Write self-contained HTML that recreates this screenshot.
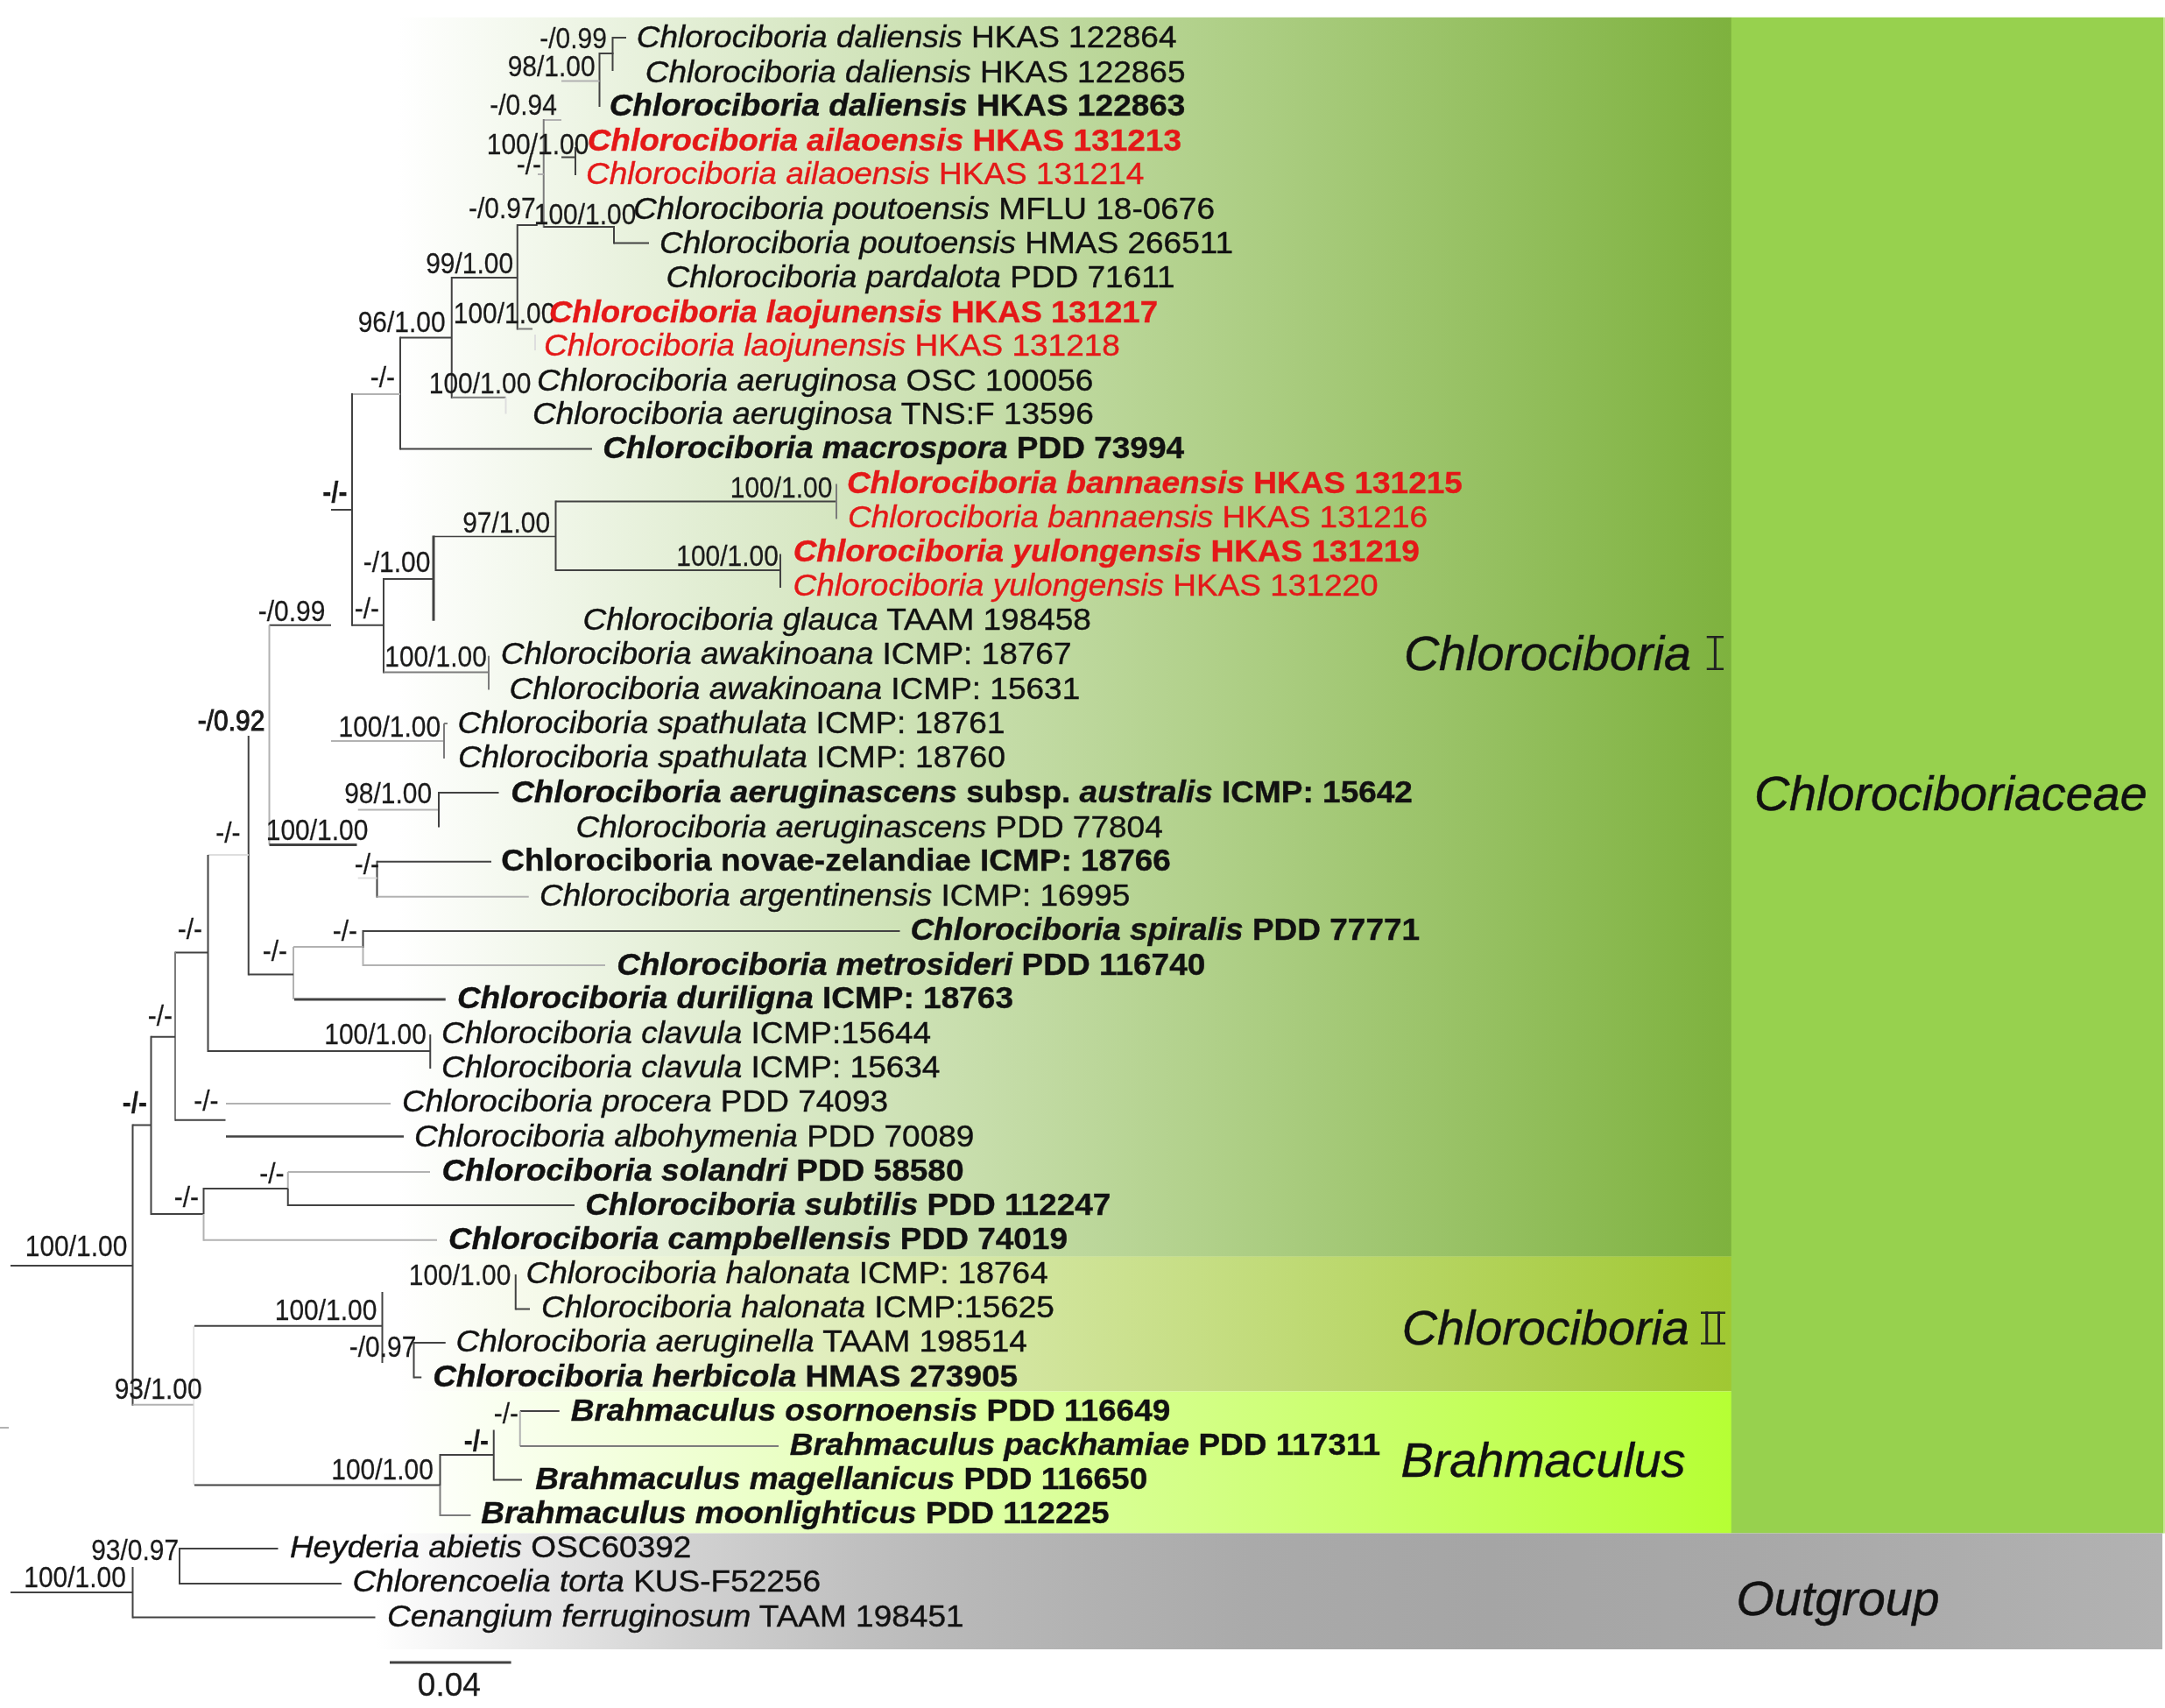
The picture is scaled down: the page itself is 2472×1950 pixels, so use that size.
<!DOCTYPE html>
<html><head><meta charset="utf-8"><title>Phylogenetic tree</title>
<style>html,body{margin:0;padding:0;background:#fff}svg{display:block;filter:blur(0.55px)}text{font-family:"Liberation Sans",sans-serif;white-space:pre}.i{font-style:italic}.b{font-weight:bold}.bi{font-weight:bold;font-style:italic}</style></head><body>
<svg width="2472" height="1950" viewBox="0 0 2472 1950">
<defs>
<linearGradient id="g1" x1="0" x2="1" y1="0" y2="0"><stop offset="0" stop-color="#ffffff"/><stop offset="1" stop-color="#7eb23e"/></linearGradient>
<linearGradient id="g2" x1="0" x2="1" y1="0" y2="0"><stop offset="0" stop-color="#ffffff"/><stop offset="1" stop-color="#a0c832"/></linearGradient>
<linearGradient id="g3" x1="0" x2="1" y1="0" y2="0"><stop offset="0" stop-color="#ffffff"/><stop offset="1" stop-color="#b6ff34"/></linearGradient>
<linearGradient id="g4" x1="0" x2="1" y1="0" y2="0"><stop offset="0" stop-color="#ffffff"/><stop offset="0.074" stop-color="#ebebeb"/><stop offset="0.172" stop-color="#d2d2d2"/><stop offset="0.27" stop-color="#c0c0c0"/><stop offset="0.33" stop-color="#b8b8b8"/><stop offset="0.489" stop-color="#aaaaaa"/><stop offset="0.623" stop-color="#a5a5a5"/><stop offset="0.77" stop-color="#a8a8a8"/><stop offset="1" stop-color="#b2b2b2"/></linearGradient>
</defs>
<rect x="0" y="0" width="2472" height="1950" fill="#fff"/>
<rect x="455" y="19.8" width="1522" height="1415" fill="url(#g1)"/>
<rect x="455" y="1434.5" width="1522" height="154" fill="url(#g2)"/>
<rect x="455" y="1588.5" width="1522" height="162" fill="url(#g3)"/>
<rect x="1976.75" y="19.8" width="493.75" height="1730.7" fill="#97d14e"/><rect x="2470.5" y="19.8" width="1.5" height="1730.7" fill="#c8e88e"/>
<rect x="430" y="1750.5" width="2039" height="132.5" fill="url(#g4)"/>
<g fill="none" stroke-linecap="butt">
<line x1="699.5" y1="43" x2="715" y2="43" stroke="#424242" stroke-width="2"/>
<line x1="699.5" y1="42" x2="699.5" y2="81" stroke="#424242" stroke-width="2"/>
<line x1="684.5" y1="61" x2="700.5" y2="61" stroke="#424242" stroke-width="2"/>
<line x1="684.5" y1="60" x2="684.5" y2="122" stroke="#424242" stroke-width="2"/>
<line x1="641" y1="92.5" x2="684.5" y2="92.5" stroke="#b2b2b2" stroke-width="2"/>
<line x1="620.75" y1="137" x2="641" y2="137" stroke="#b2b2b2" stroke-width="2"/>
<line x1="620.75" y1="136" x2="620.75" y2="260" stroke="#7c7c7c" stroke-width="2"/>
<line x1="641" y1="179.5" x2="657" y2="179.5" stroke="#424242" stroke-width="2"/>
<line x1="657" y1="168" x2="657" y2="200" stroke="#424242" stroke-width="2"/>
<line x1="614" y1="199" x2="620.75" y2="199" stroke="#b2b2b2" stroke-width="2"/>
<line x1="620.75" y1="259" x2="701" y2="259" stroke="#424242" stroke-width="2"/>
<line x1="701" y1="258" x2="701" y2="278.5" stroke="#424242" stroke-width="2"/>
<line x1="701" y1="277.5" x2="741" y2="277.5" stroke="#424242" stroke-width="2"/>
<line x1="590.75" y1="257" x2="613.75" y2="257" stroke="#424242" stroke-width="2"/>
<line x1="590.75" y1="256" x2="590.75" y2="376.5" stroke="#424242" stroke-width="2"/>
<line x1="590.75" y1="375.5" x2="608" y2="375.5" stroke="#7c7c7c" stroke-width="2"/>
<line x1="611" y1="382" x2="611" y2="400" stroke="#dedede" stroke-width="2"/>
<line x1="515.75" y1="317" x2="590.75" y2="317" stroke="#424242" stroke-width="2"/>
<line x1="515.75" y1="316" x2="515.75" y2="454.75" stroke="#424242" stroke-width="2"/>
<line x1="516" y1="453.75" x2="577.5" y2="453.75" stroke="#7c7c7c" stroke-width="2"/>
<line x1="577.5" y1="453.75" x2="577.5" y2="472.5" stroke="#dedede" stroke-width="2"/>
<line x1="457" y1="385.5" x2="516" y2="385.5" stroke="#424242" stroke-width="2"/>
<line x1="457" y1="384.5" x2="457" y2="513.5" stroke="#424242" stroke-width="2"/>
<line x1="457" y1="512.5" x2="676" y2="512.5" stroke="#424242" stroke-width="2"/>
<line x1="402" y1="450" x2="457" y2="450" stroke="#b2b2b2" stroke-width="2"/>
<line x1="402" y1="449" x2="402" y2="714.75" stroke="#424242" stroke-width="2"/>
<line x1="402" y1="713.75" x2="438" y2="713.75" stroke="#424242" stroke-width="2"/>
<line x1="378" y1="582" x2="402" y2="582" stroke="#424242" stroke-width="2"/>
<line x1="438" y1="660" x2="438" y2="768.5" stroke="#424242" stroke-width="2"/>
<line x1="438" y1="661" x2="495" y2="661" stroke="#424242" stroke-width="2"/>
<line x1="495" y1="611.5" x2="495" y2="708.75" stroke="#424242" stroke-width="3"/>
<line x1="495" y1="612.5" x2="634.5" y2="612.5" stroke="#424242" stroke-width="1.6"/>
<line x1="634.5" y1="571.5" x2="634.5" y2="652" stroke="#424242" stroke-width="2"/>
<line x1="634.5" y1="572.5" x2="955" y2="572.5" stroke="#424242" stroke-width="2"/>
<line x1="955" y1="552.5" x2="955" y2="592.5" stroke="#7c7c7c" stroke-width="2"/>
<line x1="634.5" y1="651" x2="891" y2="651" stroke="#424242" stroke-width="2"/>
<line x1="891" y1="632.5" x2="891" y2="671" stroke="#424242" stroke-width="2"/>
<line x1="438" y1="767.5" x2="558" y2="767.5" stroke="#7c7c7c" stroke-width="2"/>
<line x1="558" y1="748.75" x2="558" y2="787.5" stroke="#7c7c7c" stroke-width="2"/>
<line x1="307.5" y1="713.75" x2="378" y2="713.75" stroke="#424242" stroke-width="2"/>
<line x1="307.5" y1="713.75" x2="307.5" y2="964.5" stroke="#b2b2b2" stroke-width="2"/>
<line x1="307.5" y1="964.5" x2="407.5" y2="964.5" stroke="#424242" stroke-width="3"/>
<line x1="283.75" y1="840" x2="283.75" y2="1113.5" stroke="#424242" stroke-width="2"/>
<line x1="237.5" y1="976" x2="283.75" y2="976" stroke="#dedede" stroke-width="2"/>
<line x1="237.5" y1="976" x2="237.5" y2="1201" stroke="#424242" stroke-width="2"/>
<line x1="378" y1="846" x2="507" y2="846" stroke="#b2b2b2" stroke-width="2"/>
<line x1="507" y1="826" x2="507" y2="866" stroke="#7c7c7c" stroke-width="2"/>
<line x1="507" y1="826" x2="511" y2="826" stroke="#7c7c7c" stroke-width="2"/>
<line x1="408.75" y1="924.5" x2="501" y2="924.5" stroke="#b2b2b2" stroke-width="2"/>
<line x1="501" y1="904" x2="501" y2="944.5" stroke="#424242" stroke-width="2"/>
<line x1="501" y1="905" x2="569.5" y2="905" stroke="#424242" stroke-width="2"/>
<line x1="430.5" y1="983.75" x2="561" y2="983.75" stroke="#424242" stroke-width="2"/>
<line x1="430.5" y1="982.75" x2="430.5" y2="1024.75" stroke="#424242" stroke-width="2"/>
<line x1="430.5" y1="1023.75" x2="603.75" y2="1023.75" stroke="#b2b2b2" stroke-width="2"/>
<line x1="408.75" y1="1002.5" x2="430.5" y2="1002.5" stroke="#dedede" stroke-width="2"/>
<line x1="414.5" y1="1063" x2="1027.5" y2="1063" stroke="#424242" stroke-width="2"/>
<line x1="414.5" y1="1062" x2="414.5" y2="1082" stroke="#424242" stroke-width="2"/>
<line x1="414.5" y1="1082" x2="414.5" y2="1103" stroke="#b2b2b2" stroke-width="2"/>
<line x1="414.5" y1="1102" x2="691" y2="1102" stroke="#b2b2b2" stroke-width="2"/>
<line x1="335" y1="1081" x2="414.5" y2="1081" stroke="#b2b2b2" stroke-width="2"/>
<line x1="335" y1="1081" x2="335" y2="1141" stroke="#b2b2b2" stroke-width="2"/>
<line x1="283.75" y1="1112.5" x2="335" y2="1112.5" stroke="#424242" stroke-width="2"/>
<line x1="336" y1="1141" x2="508.75" y2="1141" stroke="#424242" stroke-width="3"/>
<line x1="237.5" y1="1200" x2="491.25" y2="1200" stroke="#424242" stroke-width="2"/>
<line x1="491.25" y1="1181" x2="491.25" y2="1220" stroke="#424242" stroke-width="2"/>
<line x1="200" y1="1087.5" x2="237.5" y2="1087.5" stroke="#424242" stroke-width="2"/>
<line x1="200" y1="1086.5" x2="200" y2="1279.75" stroke="#7c7c7c" stroke-width="2"/>
<line x1="200" y1="1278.75" x2="257.5" y2="1278.75" stroke="#424242" stroke-width="2"/>
<line x1="258" y1="1260" x2="446" y2="1260" stroke="#b2b2b2" stroke-width="2"/>
<line x1="258" y1="1297.5" x2="461" y2="1297.5" stroke="#424242" stroke-width="2.5"/>
<line x1="172.5" y1="1183.75" x2="200" y2="1183.75" stroke="#424242" stroke-width="2"/>
<line x1="172.5" y1="1182.75" x2="172.5" y2="1387" stroke="#424242" stroke-width="2"/>
<line x1="172.5" y1="1386" x2="232.5" y2="1386" stroke="#424242" stroke-width="2"/>
<line x1="151.5" y1="1284.5" x2="172.5" y2="1284.5" stroke="#424242" stroke-width="2"/>
<line x1="151.5" y1="1283.5" x2="151.5" y2="1604.75" stroke="#424242" stroke-width="2"/>
<line x1="12" y1="1445" x2="151.5" y2="1445" stroke="#424242" stroke-width="2"/>
<line x1="328.75" y1="1338" x2="491" y2="1338" stroke="#b2b2b2" stroke-width="2"/>
<line x1="328.75" y1="1338" x2="328.75" y2="1357" stroke="#b2b2b2" stroke-width="2"/>
<line x1="328.75" y1="1357" x2="328.75" y2="1377" stroke="#424242" stroke-width="2"/>
<line x1="328.75" y1="1376" x2="656" y2="1376" stroke="#424242" stroke-width="2"/>
<line x1="232.5" y1="1357" x2="328.75" y2="1357" stroke="#424242" stroke-width="2"/>
<line x1="232.5" y1="1356" x2="232.5" y2="1386" stroke="#424242" stroke-width="2"/>
<line x1="232.5" y1="1386" x2="232.5" y2="1416.75" stroke="#b2b2b2" stroke-width="2"/>
<line x1="232.5" y1="1415.75" x2="499" y2="1415.75" stroke="#b2b2b2" stroke-width="2"/>
<line x1="151.5" y1="1603.75" x2="221.25" y2="1603.75" stroke="#b2b2b2" stroke-width="2"/>
<line x1="221.25" y1="1513.75" x2="221.25" y2="1695.5" stroke="#e0e0e0" stroke-width="1.5"/>
<line x1="222" y1="1513.75" x2="436.25" y2="1513.75" stroke="#424242" stroke-width="2"/>
<line x1="436.5" y1="1475" x2="436.5" y2="1556" stroke="#424242" stroke-width="2"/>
<line x1="472.5" y1="1533" x2="508.75" y2="1533" stroke="#424242" stroke-width="2"/>
<line x1="472.5" y1="1532" x2="472.5" y2="1573.5" stroke="#424242" stroke-width="2"/>
<line x1="472.5" y1="1572.5" x2="481.25" y2="1572.5" stroke="#424242" stroke-width="2"/>
<line x1="588.75" y1="1455" x2="588.75" y2="1495.5" stroke="#424242" stroke-width="2"/>
<line x1="588.75" y1="1494.5" x2="605" y2="1494.5" stroke="#424242" stroke-width="2"/>
<line x1="222" y1="1695.5" x2="502" y2="1695.5" stroke="#424242" stroke-width="2"/>
<line x1="502.5" y1="1660" x2="502.5" y2="1696" stroke="#424242" stroke-width="2"/>
<line x1="502.5" y1="1696" x2="502.5" y2="1731" stroke="#7c7c7c" stroke-width="2"/>
<line x1="502.5" y1="1661" x2="563.75" y2="1661" stroke="#424242" stroke-width="2"/>
<line x1="563.75" y1="1632.5" x2="563.75" y2="1690.5" stroke="#424242" stroke-width="2"/>
<line x1="563.75" y1="1689.5" x2="596" y2="1689.5" stroke="#424242" stroke-width="2"/>
<line x1="593.75" y1="1611" x2="638.75" y2="1611" stroke="#424242" stroke-width="2"/>
<line x1="593.75" y1="1611" x2="593.75" y2="1651" stroke="#b2b2b2" stroke-width="2"/>
<line x1="593.75" y1="1651" x2="889" y2="1651" stroke="#7c7c7c" stroke-width="2"/>
<line x1="502.5" y1="1730" x2="537.5" y2="1730" stroke="#7c7c7c" stroke-width="2"/>
<line x1="0" y1="1630" x2="10" y2="1630" stroke="#b2b2b2" stroke-width="2"/>
<line x1="205" y1="1768" x2="317.5" y2="1768" stroke="#424242" stroke-width="2"/>
<line x1="205" y1="1767" x2="205" y2="1809" stroke="#424242" stroke-width="2"/>
<line x1="205" y1="1808" x2="390" y2="1808" stroke="#424242" stroke-width="2"/>
<line x1="12" y1="1818" x2="151.5" y2="1818" stroke="#424242" stroke-width="2"/>
<line x1="151.5" y1="1789" x2="151.5" y2="1847.5" stroke="#424242" stroke-width="2"/>
<line x1="151.5" y1="1846.5" x2="428.5" y2="1846.5" stroke="#424242" stroke-width="2"/>
<line x1="445" y1="1898" x2="583.6" y2="1898" stroke="#424242" stroke-width="3"/>
</g>
<g font-size="33" fill="#1a1a1a" stroke="#1a1a1a" stroke-width="0.25">
<text transform="translate(616.15,55.0) scale(0.9091,1)">-/0.99</text>
<text transform="translate(579.65,86.75) scale(0.9091,1)">98/1.00</text>
<text transform="translate(559.15,130.5) scale(0.9091,1)">-/0.94</text>
<text transform="translate(555.75,175.5) scale(0.9091,1)">100/1.00</text>
<text transform="translate(589.65,198.5) scale(0.9091,1)">-/-</text>
<text transform="translate(534.90,249.25) scale(0.9091,1)">-/0.97</text>
<text transform="translate(609.75,255.5) scale(0.9091,1)">100/1.00</text>
<text transform="translate(486.15,311.5) scale(0.9091,1)">99/1.00</text>
<text transform="translate(517.75,369.25) scale(0.9091,1)">100/1.00</text>
<text transform="translate(408.65,379.25) scale(0.9091,1)">96/1.00</text>
<text transform="translate(422.65,441.5) scale(0.9091,1)">-/-</text>
<text transform="translate(489.75,449.25) scale(0.9091,1)">100/1.00</text>
<text transform="translate(528.15,607.5) scale(0.9091,1)">97/1.00</text>
<text transform="translate(414.65,653.0) scale(0.9091,1)">-/1.00</text>
<text transform="translate(404.65,705.5) scale(0.9091,1)">-/-</text>
<text transform="translate(439.25,760.5) scale(0.9091,1)">100/1.00</text>
<text transform="translate(772.25,645.5) scale(0.9091,1)">100/1.00</text>
<text transform="translate(833.75,568.0) scale(0.9091,1)">100/1.00</text>
<text transform="translate(368.15,572.5) scale(0.9091,1)" class="b">-/-</text>
<text transform="translate(294.65,709.25) scale(0.9091,1)">-/0.99</text>
<text transform="translate(225.65,833.5) scale(0.9091,1)" stroke="#1a1a1a" stroke-width="1.0">-/0.92</text>
<text transform="translate(386.50,841.0) scale(0.9091,1)">100/1.00</text>
<text transform="translate(393.15,916.5) scale(0.9091,1)">98/1.00</text>
<text transform="translate(303.75,958.5) scale(0.9091,1)">100/1.00</text>
<text transform="translate(404.65,998.0) scale(0.9091,1)">-/-</text>
<text transform="translate(246.15,961.5) scale(0.9091,1)">-/-</text>
<text transform="translate(202.65,1072.0) scale(0.9091,1)">-/-</text>
<text transform="translate(379.65,1074.0) scale(0.9091,1)">-/-</text>
<text transform="translate(299.65,1096.5) scale(0.9091,1)">-/-</text>
<text transform="translate(168.65,1170.5) scale(0.9091,1)">-/-</text>
<text transform="translate(370.25,1191.5) scale(0.9091,1)">100/1.00</text>
<text transform="translate(139.65,1270.0) scale(0.9091,1)" class="b">-/-</text>
<text transform="translate(221.15,1267.5) scale(0.9091,1)">-/-</text>
<text transform="translate(296.15,1350.5) scale(0.9091,1)">-/-</text>
<text transform="translate(198.65,1378.0) scale(0.9091,1)">-/-</text>
<text transform="translate(28.75,1434.25) scale(0.9091,1)">100/1.00</text>
<text transform="translate(466.75,1466.5) scale(0.9091,1)">100/1.00</text>
<text transform="translate(313.75,1506.5) scale(0.9091,1)">100/1.00</text>
<text transform="translate(398.65,1549.25) scale(0.9091,1)">-/0.97</text>
<text transform="translate(130.65,1596.5) scale(0.9091,1)">93/1.00</text>
<text transform="translate(563.65,1624.5) scale(0.9091,1)">-/-</text>
<text transform="translate(529.65,1655.5) scale(0.9091,1)" class="b">-/-</text>
<text transform="translate(378.25,1688.5) scale(0.9091,1)">100/1.00</text>
<text transform="translate(104.15,1780.5) scale(0.9091,1)">93/0.97</text>
<text transform="translate(27.25,1811.5) scale(0.9091,1)">100/1.00</text>
</g>
<text x="476.82" y="1935.6" font-size="37" fill="#1a1a1a" stroke="#1a1a1a" stroke-width="0.3">0.04</text>
<g font-size="35.8">
<text transform="translate(726.72,54.0) scale(1.0335,1)" fill="#111111" stroke="#111111" stroke-width="0.4"><tspan class="i">Chlorociboria daliensis</tspan><tspan> HKAS 122864</tspan></text>
<text transform="translate(736.72,94.0) scale(1.0335,1)" fill="#111111" stroke="#111111" stroke-width="0.4"><tspan class="i">Chlorociboria daliensis</tspan><tspan> HKAS 122865</tspan></text>
<text transform="translate(695.65,132.0) scale(1.0335,1)" fill="#111111" stroke="#111111" stroke-width="0.4"><tspan class="bi">Chlorociboria daliensis</tspan><tspan class="b"> HKAS 122863</tspan></text>
<text transform="translate(670.65,171.5) scale(1.0335,1)" fill="#e41818" stroke="#e41818" stroke-width="0.4"><tspan class="bi">Chlorociboria ailaoensis</tspan><tspan class="b"> HKAS 131213</tspan></text>
<text transform="translate(668.97,210.0) scale(1.0335,1)" fill="#e41818" stroke="#e41818" stroke-width="0.4"><tspan class="i">Chlorociboria ailaoensis</tspan><tspan> HKAS 131214</tspan></text>
<text transform="translate(722.97,250.0) scale(1.0335,1)" fill="#111111" stroke="#111111" stroke-width="0.4"><tspan class="i">Chlorociboria poutoensis</tspan><tspan> MFLU 18-0676</tspan></text>
<text transform="translate(752.97,288.5) scale(1.0335,1)" fill="#111111" stroke="#111111" stroke-width="0.4"><tspan class="i">Chlorociboria poutoensis</tspan><tspan> HMAS 266511</tspan></text>
<text transform="translate(760.47,328.0) scale(1.0335,1)" fill="#111111" stroke="#111111" stroke-width="0.4"><tspan class="i">Chlorociboria pardalota</tspan><tspan> PDD 71611</tspan></text>
<text transform="translate(626.90,368.0) scale(1.0335,1)" fill="#e41818" stroke="#e41818" stroke-width="0.4" font-size="35.4"><tspan class="bi">Chlorociboria laojunensis</tspan><tspan class="b"> HKAS 131217</tspan></text>
<text transform="translate(620.97,405.5) scale(1.0335,1)" fill="#e41818" stroke="#e41818" stroke-width="0.4"><tspan class="i">Chlorociboria laojunensis</tspan><tspan> HKAS 131218</tspan></text>
<text transform="translate(612.97,446.0) scale(1.0335,1)" fill="#111111" stroke="#111111" stroke-width="0.4"><tspan class="i">Chlorociboria aeruginosa</tspan><tspan> OSC 100056</tspan></text>
<text transform="translate(607.97,484.2) scale(1.0335,1)" fill="#111111" stroke="#111111" stroke-width="0.4"><tspan class="i">Chlorociboria aeruginosa</tspan><tspan> TNS:F 13596</tspan></text>
<text transform="translate(688.15,523.0) scale(1.0335,1)" fill="#111111" stroke="#111111" stroke-width="0.4"><tspan class="bi">Chlorociboria macrospora</tspan><tspan class="b"> PDD 73994</tspan></text>
<text transform="translate(966.90,563.0) scale(1.0335,1)" fill="#e41818" stroke="#e41818" stroke-width="0.4"><tspan class="bi">Chlorociboria bannaensis</tspan><tspan class="b"> HKAS 131215</tspan></text>
<text transform="translate(967.97,601.5) scale(1.0335,1)" fill="#e41818" stroke="#e41818" stroke-width="0.4"><tspan class="i">Chlorociboria bannaensis</tspan><tspan> HKAS 131216</tspan></text>
<text transform="translate(905.65,641.0) scale(1.0335,1)" fill="#e41818" stroke="#e41818" stroke-width="0.4"><tspan class="bi">Chlorociboria yulongensis</tspan><tspan class="b"> HKAS 131219</tspan></text>
<text transform="translate(905.47,679.5) scale(1.0335,1)" fill="#e41818" stroke="#e41818" stroke-width="0.4"><tspan class="i">Chlorociboria yulongensis</tspan><tspan> HKAS 131220</tspan></text>
<text transform="translate(665.47,719.2) scale(1.0335,1)" fill="#111111" stroke="#111111" stroke-width="0.4"><tspan class="i">Chlorociboria glauca</tspan><tspan> TAAM 198458</tspan></text>
<text transform="translate(571.72,758.0) scale(1.0335,1)" fill="#111111" stroke="#111111" stroke-width="0.4"><tspan class="i">Chlorociboria awakinoana</tspan><tspan> ICMP: 18767</tspan></text>
<text transform="translate(581.47,797.5) scale(1.0335,1)" fill="#111111" stroke="#111111" stroke-width="0.4"><tspan class="i">Chlorociboria awakinoana</tspan><tspan> ICMP: 15631</tspan></text>
<text transform="translate(522.47,836.5) scale(1.0335,1)" fill="#111111" stroke="#111111" stroke-width="0.4"><tspan class="i">Chlorociboria spathulata</tspan><tspan> ICMP: 18761</tspan></text>
<text transform="translate(522.97,876.0) scale(1.0335,1)" fill="#111111" stroke="#111111" stroke-width="0.4"><tspan class="i">Chlorociboria spathulata</tspan><tspan> ICMP: 18760</tspan></text>
<text transform="translate(583.15,915.5) scale(1.0335,1)" fill="#111111" stroke="#111111" stroke-width="0.4"><tspan class="bi">Chlorociboria aeruginascens</tspan><tspan class="b"> subsp. </tspan><tspan class="bi">australis</tspan><tspan class="b"> ICMP: 15642</tspan></text>
<text transform="translate(657.47,955.5) scale(1.0335,1)" fill="#111111" stroke="#111111" stroke-width="0.4"><tspan class="i">Chlorociboria aeruginascens</tspan><tspan> PDD 77804</tspan></text>
<text transform="translate(572.27,994.2) scale(1.0335,1)" fill="#111111" stroke="#111111" stroke-width="0.4"><tspan class="b">Chlorociboria novae-zelandiae ICMP: 18766</tspan></text>
<text transform="translate(615.97,1033.5) scale(1.0335,1)" fill="#111111" stroke="#111111" stroke-width="0.4"><tspan class="i">Chlorociboria argentinensis</tspan><tspan> ICMP: 16995</tspan></text>
<text transform="translate(1039.40,1073.0) scale(1.0335,1)" fill="#111111" stroke="#111111" stroke-width="0.4"><tspan class="bi">Chlorociboria spiralis</tspan><tspan class="b"> PDD 77771</tspan></text>
<text transform="translate(704.15,1112.5) scale(1.0335,1)" fill="#111111" stroke="#111111" stroke-width="0.4"><tspan class="bi">Chlorociboria metrosideri</tspan><tspan class="b"> PDD 116740</tspan></text>
<text transform="translate(521.90,1150.8) scale(1.0335,1)" fill="#111111" stroke="#111111" stroke-width="0.4"><tspan class="bi">Chlorociboria duriligna</tspan><tspan class="b"> ICMP: 18763</tspan></text>
<text transform="translate(503.96,1190.8) scale(1.0335,1)" fill="#111111" stroke="#111111" stroke-width="0.4"><tspan class="i">Chlorociboria clavula</tspan><tspan> ICMP:15644</tspan></text>
<text transform="translate(503.96,1230.0) scale(1.0335,1)" fill="#111111" stroke="#111111" stroke-width="0.4"><tspan class="i">Chlorociboria clavula</tspan><tspan> ICMP: 15634</tspan></text>
<text transform="translate(458.96,1269.2) scale(1.0335,1)" fill="#111111" stroke="#111111" stroke-width="0.4"><tspan class="i">Chlorociboria procera</tspan><tspan> PDD 74093</tspan></text>
<text transform="translate(472.96,1308.5) scale(1.0335,1)" fill="#111111" stroke="#111111" stroke-width="0.4"><tspan class="i">Chlorociboria albohymenia</tspan><tspan> PDD 70089</tspan></text>
<text transform="translate(504.40,1347.5) scale(1.0335,1)" fill="#111111" stroke="#111111" stroke-width="0.4"><tspan class="bi">Chlorociboria solandri</tspan><tspan class="b"> PDD 58580</tspan></text>
<text transform="translate(668.15,1386.5) scale(1.0335,1)" fill="#111111" stroke="#111111" stroke-width="0.4"><tspan class="bi">Chlorociboria subtilis</tspan><tspan class="b"> PDD 112247</tspan></text>
<text transform="translate(511.90,1425.5) scale(1.0335,1)" fill="#111111" stroke="#111111" stroke-width="0.4"><tspan class="bi">Chlorociboria campbellensis</tspan><tspan class="b"> PDD 74019</tspan></text>
<text transform="translate(600.47,1464.5) scale(1.0335,1)" fill="#111111" stroke="#111111" stroke-width="0.4"><tspan class="i">Chlorociboria halonata</tspan><tspan> ICMP: 18764</tspan></text>
<text transform="translate(617.97,1503.5) scale(1.0335,1)" fill="#111111" stroke="#111111" stroke-width="0.4"><tspan class="i">Chlorociboria halonata</tspan><tspan> ICMP:15625</tspan></text>
<text transform="translate(520.47,1543.0) scale(1.0335,1)" fill="#111111" stroke="#111111" stroke-width="0.4"><tspan class="i">Chlorociboria aeruginella</tspan><tspan> TAAM 198514</tspan></text>
<text transform="translate(494.15,1582.5) scale(1.0335,1)" fill="#111111" stroke="#111111" stroke-width="0.4"><tspan class="bi">Chlorociboria herbicola</tspan><tspan class="b"> HMAS 273905</tspan></text>
<text transform="translate(651.76,1621.5) scale(1.0335,1)" fill="#111111" stroke="#111111" stroke-width="0.4"><tspan class="bi">Brahmaculus osornoensis</tspan><tspan class="b"> PDD 116649</tspan></text>
<text transform="translate(901.76,1661.0) scale(1.0335,1)" fill="#111111" stroke="#111111" stroke-width="0.4"><tspan class="bi">Brahmaculus packhamiae</tspan><tspan class="b"> PDD 117311</tspan></text>
<text transform="translate(611.26,1699.5) scale(1.0335,1)" fill="#111111" stroke="#111111" stroke-width="0.4"><tspan class="bi">Brahmaculus magellanicus</tspan><tspan class="b"> PDD 116650</tspan></text>
<text transform="translate(549.26,1738.5) scale(1.0335,1)" fill="#111111" stroke="#111111" stroke-width="0.4"><tspan class="bi">Brahmaculus moonlighticus</tspan><tspan class="b"> PDD 112225</tspan></text>
<text transform="translate(330.89,1778.0) scale(1.0335,1)" fill="#111111" stroke="#111111" stroke-width="0.4"><tspan class="i">Heyderia abietis</tspan><tspan> OSC60392</tspan></text>
<text transform="translate(402.46,1817.2) scale(1.0335,1)" fill="#111111" stroke="#111111" stroke-width="0.4"><tspan class="i">Chlorencoelia torta</tspan><tspan> KUS-F52256</tspan></text>
<text transform="translate(441.96,1857.2) scale(1.0335,1)" fill="#111111" stroke="#111111" stroke-width="0.4"><tspan class="i">Cenangium ferruginosum</tspan><tspan> TAAM 198451</tspan></text>
</g>
<g font-size="55.7" fill="#111111" stroke="#111111" stroke-width="0.5" class="i">
<text x="1602.9" y="765">Chlorociboria</text>
<text x="1600.7" y="1535">Chlorociboria</text>
<text x="1599.6" y="1686.25">Brahmaculus</text>
<text x="2002.9" y="924.5">Chlorociboriaceae</text>
<text x="1982.4" y="1843.75">Outgroup</text>
</g>
<rect x="1948.75" y="726" width="19.25" height="2.5" fill="#222"/><rect x="1948.75" y="762.5" width="19.25" height="2.5" fill="#222"/><rect x="1956.875" y="726" width="3" height="39" fill="#222"/>
<rect x="1942" y="1497.5" width="28" height="2.5" fill="#222"/><rect x="1942" y="1532.5" width="28" height="2.5" fill="#222"/><rect x="1947.25" y="1497.5" width="3" height="37.5" fill="#222"/><rect x="1961" y="1497.5" width="3" height="37.5" fill="#222"/>
</svg></body></html>
